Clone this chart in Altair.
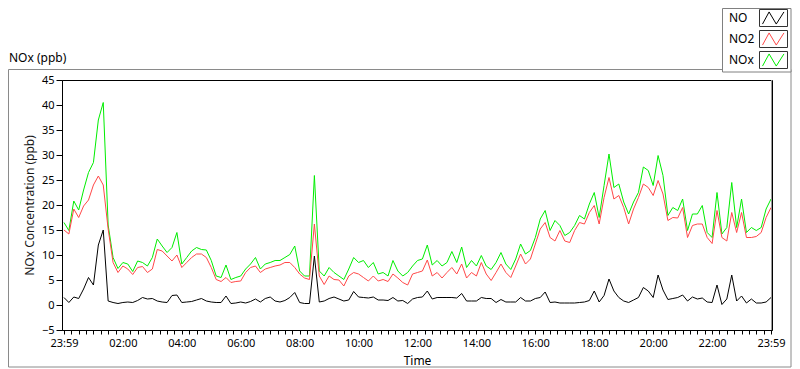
import json
import altair as alt
import pandas as pd

# ---- data (10-minute steps from 23:59) ----
minutes = list(range(0, 1441, 10))
no2 = [15.0, 14.2, 19.2, 17.5, 19.8, 21.0, 24.0, 25.8, 24.0, 15.2,
       8.5, 6.5, 7.8, 7.2, 6.1, 7.5, 7.7, 6.5, 7.2, 11.1,
       10.8, 9.8, 8.8, 10.0, 7.5, 8.5, 9.5, 10.2, 10.2, 9.5,
       7.5, 5.1, 4.7, 5.5, 4.5, 4.7, 4.8, 6.5, 7.5, 7.8,
       6.5, 7.2, 7.5, 7.8, 8.0, 8.5, 8.5, 7.5, 6.2, 5.4,
       5.1, 16.2, 5.8, 4.1, 5.8, 5.1, 5.0, 3.8, 5.8, 6.5,
       6.2, 5.5, 4.8, 5.8, 4.8, 5.1, 4.7, 6.2, 5.4, 4.5,
       4.0, 6.2, 6.5, 6.8, 9.0, 5.8, 6.5, 5.4, 6.5, 7.5,
       6.2, 8.2, 5.4, 6.5, 5.8, 8.5, 6.2, 4.9, 6.5, 8.2,
       6.5, 5.5, 7.8, 10.2, 8.2, 9.2, 12.2, 15.2, 16.5, 13.5,
       12.8, 14.9, 12.8, 12.5, 14.9, 16.5, 16.2, 18.5, 19.9, 16.2,
       21.5, 25.5, 21.2, 21.9, 19.5, 16.2, 19.2, 21.5, 24.2, 23.5,
       21.9, 24.9, 22.2, 16.9, 17.5, 17.4, 19.5, 13.5, 15.9, 16.2,
       16.2, 13.5, 12.3, 18.9, 13.5, 12.8, 18.5, 14.5, 18.5, 13.5,
       13.5, 13.7, 14.5, 17.5, 19.5]
nox = [16.5, 14.9, 20.8, 19.0, 23.0, 26.5, 28.5, 37.0, 40.5, 16.0,
       9.5, 7.3, 8.5, 8.2, 6.7, 8.8, 8.5, 7.8, 9.5, 13.2,
       11.8, 10.5, 11.5, 14.5, 8.2, 9.5, 10.8, 11.5, 11.1, 11.0,
       8.9, 5.8, 5.5, 8.0, 5.1, 5.5, 5.8, 7.2, 8.2, 9.5,
       7.2, 8.2, 8.5, 8.9, 8.9, 9.5, 10.1, 11.8, 6.8, 5.8,
       5.8, 25.9, 6.8, 5.8, 7.5, 6.5, 5.8, 5.1, 7.2, 9.5,
       8.5, 8.9, 7.5, 8.5, 6.2, 6.5, 5.8, 8.9, 6.8, 5.8,
       6.5, 7.8, 8.9, 9.2, 12.0, 8.0, 8.9, 7.8, 8.5, 10.7,
       8.5, 11.6, 7.5, 8.9, 7.8, 9.9, 7.8, 7.1, 8.5, 10.5,
       8.2, 7.1, 9.2, 12.2, 10.2, 10.9, 13.5, 17.2, 18.9, 14.9,
       16.9, 15.9, 13.9, 14.5, 15.9, 17.9, 17.2, 20.2, 22.5, 17.5,
       23.9, 30.2, 23.5, 24.2, 20.6, 18.2, 20.6, 22.5, 27.6, 26.9,
       23.9, 29.9, 25.9, 17.9, 19.5, 18.9, 21.2, 14.9, 18.2, 18.2,
       19.9, 14.5, 13.5, 22.5, 14.2, 15.5, 24.5, 15.5, 21.2, 14.5,
       15.5, 14.9, 15.5, 19.2, 21.2]
no = [1.5, 0.5, 1.6, 1.3, 3.2, 5.5, 4.0, 12.0, 15.0, 0.8,
      0.5, 0.3, 0.5, 0.6, 0.5, 0.9, 1.5, 1.2, 1.3, 0.8,
      0.6, 0.5, 1.9, 2.0, 0.5, 0.6, 0.7, 1.0, 1.3, 0.8,
      0.6, 0.5, 0.5, 1.8, 0.3, 0.4, 0.6, 0.4, 0.7, 1.2,
      0.6, 1.3, 1.6, 0.8, 0.6, 0.9, 1.5, 2.5, 0.5, 0.3,
      0.3, 9.8, 0.6, 0.8, 1.3, 1.6, 1.2, 0.8, 1.0, 2.7,
      1.6, 1.5, 1.4, 1.6, 1.0, 1.0, 0.9, 1.5, 0.8, 0.9,
      0.3, 1.2, 1.5, 1.6, 2.8, 1.2, 1.5, 1.5, 1.5, 1.5,
      1.4, 2.3, 0.8, 0.8, 0.8, 1.5, 1.3, 1.3, 0.5, 1.1,
      0.6, 0.6, 0.6, 1.5, 0.8, 0.8, 1.3, 1.5, 2.6, 0.5,
      0.6, 0.4, 0.4, 0.4, 0.4, 0.5, 0.6, 0.9, 2.8, 0.6,
      1.9, 5.2, 2.8, 1.5, 0.8, 0.5, 1.0, 1.5, 3.5, 2.8,
      1.5, 6.0, 3.0, 1.1, 1.3, 1.5, 2.0, 0.8, 1.6, 1.2,
      1.4, 0.6, 0.5, 4.0, 0.1, 1.2, 6.0, 0.8, 1.8, 0.4,
      1.2, 0.4, 0.4, 0.6, 1.5]

xtick_labels = ['23:59', '02:00', '04:00', '06:00', '08:00', '10:00', '12:00',
                '14:00', '16:00', '18:00', '20:00', '22:00', '23:59']
xtick_minor_step = 15
ytick_values = list(range(-5, 46, 5))
series_names = ['NO', 'NO2', 'NOx']
series_colors = ['#000000', '#ff4848', '#00ee00']

df = pd.DataFrame({'t': minutes, 'NO': no, 'NO2': no2, 'NOx': nox})

W, H = 710, 250
FONT = 'Noto Sans'
one = pd.DataFrame({'k': [0]})

label_expr = ("datum.value % 120 == 0 ? " + json.dumps(xtick_labels)
              + "[datum.value / 120] : ''")

x_scale = alt.Scale(domain=[-4, 1442], nice=False, zero=False)
y_scale = alt.Scale(domain=[-5, 45], nice=False, zero=False)

x_axis = alt.Axis(values=list(range(0, 1441, xtick_minor_step)), labelExpr=label_expr,
                  title='Time', grid=False, tickSize=4, tickColor='#000',
                  domainColor='#000', labelColor='#000', labelFont=FONT, labelFontSize=11,
                  labelPadding=3, labelOverlap=False, labelFlush=False,
                  titleFont=FONT, titleFontSize=12, titleFontWeight='normal',
                  titleColor='#000', titlePadding=7)
y_axis = alt.Axis(values=ytick_values, title='NOx Concentration (ppb)', grid=False,
                  tickSize=6, tickColor='#000', domainColor='#000', labelColor='#000',
                  labelFont=FONT, labelFontSize=11, labelPadding=2,
                  titleFont=FONT, titleFontSize=12, titleFontWeight='normal',
                  titleColor='#1a1a1a', titlePadding=5)

base = alt.Chart(df)
frame = alt.Chart(one).mark_rect(fillOpacity=0, stroke='#8a8a8a', strokeWidth=1).encode(
    x=alt.value(-53.5), x2=alt.value(729), y=alt.value(-10.5), y2=alt.value(287))

lines = []
for field, col in zip(['NOx', 'NO2', 'NO'], [series_colors[2], series_colors[1], series_colors[0]]):
    lines.append(base.mark_line(color=col, strokeWidth=1).encode(
        x=alt.X('t:Q', scale=x_scale, axis=x_axis),
        y=alt.Y(f'{field}:Q', scale=y_scale, axis=y_axis)))

right_edge = alt.Chart(one).mark_rule(color='#9a9a9a', strokeWidth=1).encode(
    x=alt.value(W - 0.5), y=alt.value(0), y2=alt.value(H))

graph_title = alt.Chart(one).mark_text(text='NOx (ppb)', align='left', baseline='middle',
                                       font=FONT, fontSize=12, color='#000').encode(
    x=alt.value(-53), y=alt.value(-22))

legend_box = alt.Chart(one).mark_rect(fill='#ffffff', stroke='#808080', strokeWidth=1).encode(
    x=alt.value(660.5), x2=alt.value(729), y=alt.value(-71.5), y2=alt.value(-8))

zigzag = 'M-1,0.55L-0.4,-0.55L0.25,0.55L0.95,-0.55'
layers = lines + [frame, right_edge, graph_title, legend_box]
for i, (name, col) in enumerate(zip(series_names, series_colors)):
    cy = -62 + 21 * i
    layers.append(alt.Chart(one).mark_text(text=name, align='left', baseline='middle',
                                           font=FONT, fontSize=12, color='#000').encode(
        x=alt.value(667), y=alt.value(cy)))
    layers.append(alt.Chart(one).mark_rect(fill='#ffffff', stroke='#333333', strokeWidth=1).encode(
        x=alt.value(697.5), x2=alt.value(725.5), y=alt.value(cy - 8.5), y2=alt.value(cy + 8.5)))
    layers.append(alt.Chart(one).mark_point(shape=zigzag, size=484, filled=False, stroke=col,
                                            strokeWidth=1, opacity=1).encode(
        x=alt.value(711.5), y=alt.value(cy)))

chart = alt.layer(*layers).properties(
    width=W, height=H,
    padding={'left': 54, 'top': 72, 'right': 20, 'bottom': 39},
    autosize=alt.AutoSizeParams(type='none'),
    background='#ffffff'
).configure_view(stroke='#000000', strokeWidth=1)

chart.save('out.html', embed_options={'renderer': 'svg', 'actions': False})
